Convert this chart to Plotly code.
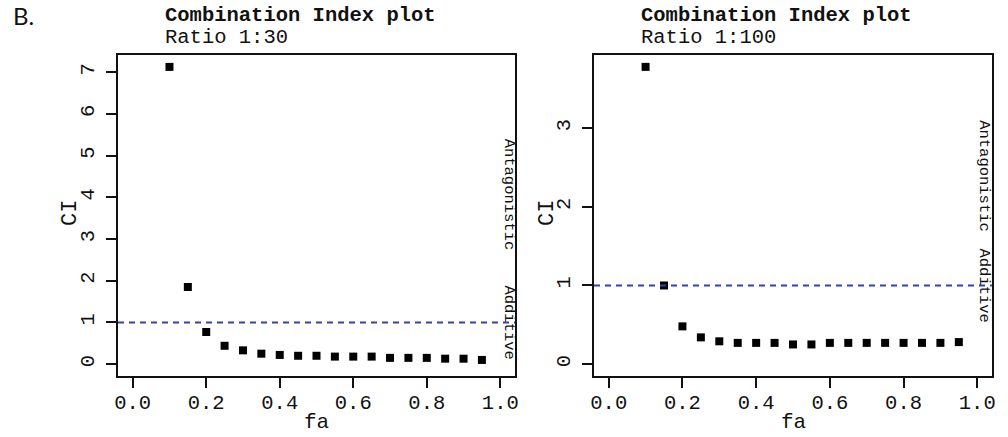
import plotly.graph_objects as go

# ---------------- data ----------------
fa = [0.10, 0.15, 0.20, 0.25, 0.30, 0.35, 0.40, 0.45, 0.50, 0.55,
      0.60, 0.65, 0.70, 0.75, 0.80, 0.85, 0.90, 0.95]
ci_ratio_30 = [7.13, 1.85, 0.77, 0.44, 0.33, 0.25, 0.22, 0.20, 0.20, 0.18,
               0.18, 0.18, 0.15, 0.15, 0.15, 0.13, 0.13, 0.10]
ci_ratio_100 = [3.78, 1.00, 0.48, 0.34, 0.29, 0.27, 0.27, 0.27, 0.25, 0.25,
                0.27, 0.27, 0.27, 0.27, 0.27, 0.27, 0.27, 0.28]
x_tick_vals = [0.0, 0.2, 0.4, 0.6, 0.8, 1.0]
x_tick_text = ["0.0", "0.2", "0.4", "0.6", "0.8", "1.0"]
y_ticks_30 = [0, 1, 2, 3, 4, 5, 6, 7]
y_ticks_100 = [0, 1, 2, 3]
titles = ["Combination Index plot", "Combination Index plot"]
subtitles = ["Ratio 1:30", "Ratio 1:100"]
additive_level = 1

# ---------------- layout helpers ----------------
W, H = 1008, 437
MONO = "Liberation Mono, Courier New, monospace"
INK = "#111111"
DASH_COLOR = "#3344a6"

def px_x(p):
    return p / W

def px_y(p):
    return 1 - p / H

panels = [
    dict(ci=ci_ratio_30, yt=y_ticks_30, x0=118, x1=515, title_x=163, label_x=509, ci_x=70),
    dict(ci=ci_ratio_100, yt=y_ticks_100, x0=594, x1=992, title_x=639, label_x=984, ci_x=547),
]
top_px, bot_px = 55, 376

fig = go.Figure()
annotations = []
shapes = []

for i, p in enumerate(panels):
    n = "" if i == 0 else str(i + 1)
    xa, ya = "x" + n, "y" + n
    ymax = max(p["ci"])
    fig.add_trace(go.Scatter(
        x=fa, y=p["ci"], mode="markers", xaxis=xa, yaxis=ya,
        marker=dict(symbol="square", size=8, color="black", line=dict(width=0)),
        showlegend=False, hoverinfo="x+y",
    ))
    axis_common = dict(
        showline=True, linecolor=INK, linewidth=1.6, mirror=True,
        ticks="outside", ticklen=10, tickwidth=1.6, tickcolor=INK,
        showgrid=False, zeroline=False, automargin=False,
        tickfont=dict(family=MONO, size=20.5, color=INK),
    )
    fig.update_layout(**{
        ("xaxis" + n): dict(
            domain=[px_x(p["x0"]), px_x(p["x1"])],
            range=[-0.04, 1.04], tickvals=x_tick_vals, ticktext=x_tick_text,
            anchor=ya, ticklabelstandoff=-3, **axis_common),
        ("yaxis" + n): dict(
            domain=[px_y(bot_px), px_y(top_px)],
            range=[-0.04 * ymax, 1.04 * ymax], tickvals=p["yt"],
            ticktext=[str(v) for v in p["yt"]], tickangle=-90,
            anchor=xa, ticklabelstandoff=4, **axis_common),
    })
    # additive reference line
    shapes.append(dict(type="line", xref=xa + " domain", yref=ya,
                       x0=0, x1=1, y0=additive_level, y1=additive_level,
                       line=dict(color=DASH_COLOR, width=2, dash="6px,5px")))
    # titles
    annotations.append(dict(text="<b>" + titles[i] + "</b>", xref="paper", yref="paper",
                            x=px_x(p["title_x"]), y=px_y(15), xanchor="left", yanchor="middle",
                            showarrow=False, font=dict(family=MONO, size=20.5, color=INK)))
    annotations.append(dict(text=subtitles[i], xref="paper", yref="paper",
                            x=px_x(p["title_x"]), y=px_y(37), xanchor="left", yanchor="middle",
                            showarrow=False, font=dict(family=MONO, size=20.5, color=INK)))
    # axis titles
    annotations.append(dict(text="fa", xref="paper", yref="paper",
                            x=px_x((p["x0"] + p["x1"]) / 2), y=px_y(422), xanchor="center",
                            yanchor="middle", showarrow=False,
                            font=dict(family=MONO, size=21, color=INK)))
    annotations.append(dict(text="CI", xref="paper", yref="paper",
                            x=px_x(p["ci_x"]), y=px_y(213), xanchor="center",
                            yanchor="middle", textangle=-90, showarrow=False,
                            font=dict(family=MONO, size=22, color=INK)))
    # region labels
    annotations.append(dict(text="Antagonistic", xref="paper", yref=ya,
                            x=px_x(p["label_x"]), y=(additive_level + ymax) / 2,
                            xanchor="center", yanchor="middle", textangle=90, showarrow=False,
                            font=dict(family=MONO, size=15.5, color=INK)))
    annotations.append(dict(text="Additive", xref="paper", yref=ya,
                            x=px_x(p["label_x"]), y=additive_level,
                            xanchor="center", yanchor="middle", textangle=90, showarrow=False,
                            font=dict(family=MONO, size=15.5, color=INK)))

annotations.append(dict(text="B.", xref="paper", yref="paper", x=px_x(11), y=px_y(16),
                        xanchor="left", yanchor="middle", showarrow=False,
                        font=dict(family="Lato, Open Sans, sans-serif", size=24, color=INK)))

fig.update_layout(
    width=W, height=H, margin=dict(l=0, r=0, t=0, b=0),
    paper_bgcolor="white", plot_bgcolor="white",
    annotations=annotations, shapes=shapes, showlegend=False,
)

fig.write_html("out.html")
